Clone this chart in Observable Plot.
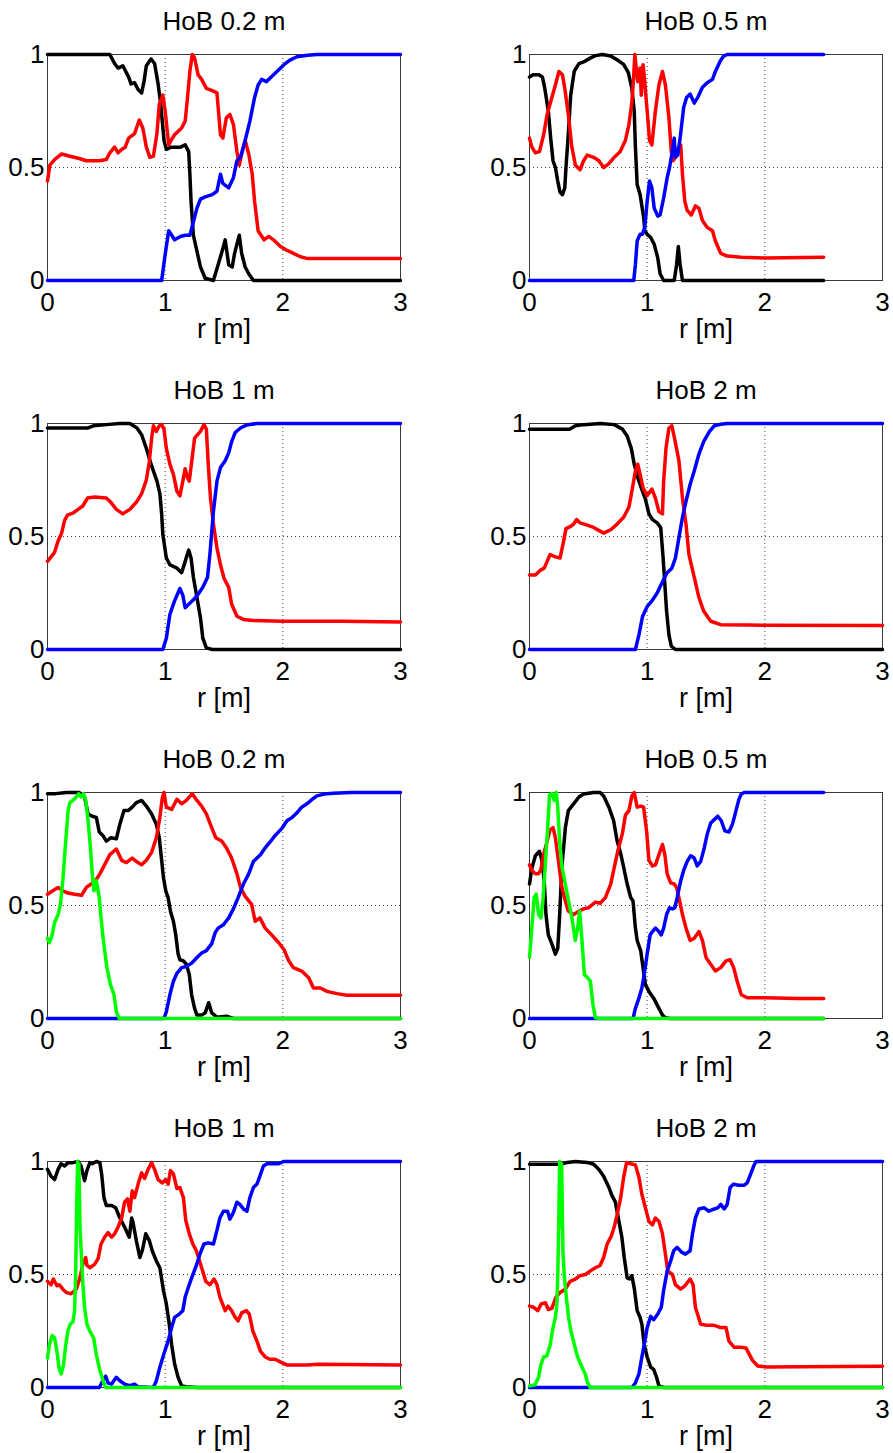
<!DOCTYPE html>
<html>
<head>
<meta charset="utf-8">
<script src="https://cdn.jsdelivr.net/npm/d3@7"></script>
<script src="https://cdn.jsdelivr.net/npm/@observablehq/plot@0.6"></script>
<style>
  html, body { margin: 0; padding: 0; background: #fff; overflow: hidden; }
  #wrap { position: relative; width: 893px; height: 1453px; background: #fff; overflow: hidden; }
  #wrap > div { position: absolute; }
  svg { display: block; overflow: visible; }
</style>
</head>
<body>
<div id="wrap"></div>
<script>
// ---------- text ----------
const titles = ["HoB 0.2 m", "HoB 0.5 m", "HoB 1 m", "HoB 2 m", "HoB 0.2 m", "HoB 0.5 m", "HoB 1 m", "HoB 2 m"];
const xLabel = "r [m]";
const xTicks = [0, 1, 2, 3];
const yTicks = [0, 0.5, 1];
const seriesColors = {black: "#000000", red: "#ff0000", blue: "#0000ff", green: "#00ff00"};

// ---------- panel 1 : HoB 0.2 m (top) ----------
const p1Black = [[0,1],[0.53,1],[0.57,0.96],[0.60,0.94],[0.64,0.95],[0.69,0.90],[0.71,0.87],[0.74,0.875],[0.77,0.845],[0.80,0.83],[0.82,0.88],[0.84,0.95],[0.88,0.98],[0.91,0.96],[0.94,0.87],[0.96,0.79],[0.98,0.68],[0.99,0.62],[1.01,0.58],[1.05,0.59],[1.13,0.59],[1.17,0.60],[1.20,0.57],[1.21,0.47],[1.22,0.35],[1.24,0.20],[1.27,0.13],[1.30,0.06],[1.34,0.01],[1.41,0],[1.45,0.07],[1.49,0.14],[1.51,0.18],[1.54,0.07],[1.57,0.06],[1.59,0.12],[1.63,0.20],[1.65,0.12],[1.68,0.06],[1.71,0.03],[1.75,0],[3,0]];
const p1Red = [[0,0.44],[0.02,0.51],[0.06,0.535],[0.12,0.56],[0.19,0.55],[0.27,0.54],[0.33,0.53],[0.44,0.53],[0.5,0.535],[0.53,0.565],[0.57,0.59],[0.60,0.565],[0.63,0.58],[0.66,0.59],[0.69,0.63],[0.74,0.65],[0.78,0.71],[0.81,0.675],[0.84,0.59],[0.87,0.545],[0.90,0.55],[0.93,0.65],[0.95,0.78],[0.98,0.82],[1.00,0.75],[1.03,0.60],[1.05,0.62],[1.08,0.645],[1.14,0.675],[1.17,0.705],[1.19,0.81],[1.21,0.925],[1.23,1.0],[1.25,0.985],[1.28,0.91],[1.31,0.89],[1.35,0.85],[1.40,0.84],[1.44,0.83],[1.47,0.645],[1.49,0.63],[1.52,0.72],[1.55,0.735],[1.58,0.69],[1.61,0.57],[1.63,0.51],[1.65,0.56],[1.68,0.62],[1.71,0.56],[1.74,0.47],[1.76,0.35],[1.79,0.22],[1.84,0.18],[1.88,0.195],[1.92,0.18],[1.98,0.15],[2.03,0.135],[2.09,0.12],[2.15,0.105],[2.21,0.097],[2.29,0.097],[3,0.097]];
const p1Blue = [[0,0],[0.97,0],[1.0,0.115],[1.03,0.22],[1.05,0.205],[1.08,0.18],[1.13,0.195],[1.17,0.2],[1.21,0.2],[1.24,0.26],[1.27,0.32],[1.30,0.36],[1.34,0.37],[1.40,0.38],[1.44,0.395],[1.47,0.47],[1.49,0.43],[1.54,0.41],[1.58,0.455],[1.61,0.53],[1.64,0.545],[1.68,0.62],[1.72,0.705],[1.76,0.81],[1.79,0.865],[1.82,0.89],[1.86,0.88],[1.91,0.905],[1.95,0.925],[2.01,0.955],[2.06,0.975],[2.12,0.99],[2.21,0.997],[2.29,1],[3,1]];

// ---------- panel 2 : HoB 0.5 m (top) ----------
const p2Black = [[0,0.90],[0.03,0.91],[0.08,0.91],[0.11,0.90],[0.13,0.85],[0.16,0.75],[0.18,0.63],[0.20,0.53],[0.22,0.50],[0.24,0.44],[0.26,0.39],[0.28,0.38],[0.30,0.41],[0.31,0.50],[0.33,0.65],[0.35,0.82],[0.38,0.925],[0.42,0.96],[0.47,0.97],[0.52,0.985],[0.56,0.995],[0.62,1.0],[0.69,0.993],[0.74,0.978],[0.80,0.956],[0.84,0.92],[0.87,0.85],[0.89,0.75],[0.90,0.59],[0.915,0.425],[0.94,0.38],[0.97,0.28],[0.98,0.22],[1.0,0.205],[1.03,0.19],[1.06,0.16],[1.09,0.10],[1.11,0.03],[1.14,0],[1.23,0],[1.25,0.07],[1.265,0.15],[1.28,0.07],[1.30,0],[2.5,0]];
const p2Red = [[0,0.63],[0.02,0.59],[0.05,0.565],[0.085,0.57],[0.12,0.645],[0.15,0.735],[0.19,0.81],[0.22,0.865],[0.25,0.925],[0.28,0.91],[0.30,0.85],[0.33,0.735],[0.36,0.59],[0.39,0.51],[0.43,0.49],[0.46,0.53],[0.49,0.555],[0.545,0.545],[0.59,0.53],[0.63,0.50],[0.67,0.515],[0.72,0.545],[0.77,0.57],[0.815,0.62],[0.845,0.69],[0.87,0.79],[0.885,0.90],[0.895,1.0],[0.91,0.925],[0.92,0.88],[0.94,0.94],[0.95,0.82],[0.965,0.955],[0.98,0.88],[0.99,0.81],[1.005,0.72],[1.02,0.62],[1.04,0.60],[1.07,0.75],[1.10,0.865],[1.13,0.925],[1.155,0.865],[1.185,0.72],[1.205,0.57],[1.22,0.53],[1.24,0.545],[1.26,0.585],[1.285,0.60],[1.30,0.47],[1.32,0.35],[1.34,0.31],[1.375,0.29],[1.41,0.33],[1.44,0.32],[1.47,0.265],[1.51,0.235],[1.555,0.22],[1.58,0.175],[1.625,0.12],[1.68,0.108],[1.80,0.103],[2.0,0.10],[2.5,0.103]];
const p2Blue = [[0,0],[0.886,0],[0.90,0.07],[0.915,0.175],[0.94,0.205],[0.96,0.205],[0.98,0.235],[1.0,0.35],[1.02,0.44],[1.04,0.41],[1.06,0.32],[1.09,0.285],[1.11,0.29],[1.14,0.365],[1.17,0.455],[1.19,0.50],[1.21,0.56],[1.23,0.63],[1.24,0.545],[1.26,0.555],[1.28,0.63],[1.31,0.765],[1.335,0.81],[1.365,0.825],[1.40,0.785],[1.43,0.81],[1.47,0.855],[1.51,0.875],[1.555,0.89],[1.58,0.925],[1.62,0.97],[1.65,0.993],[1.68,1],[2.5,1]];

// ---------- panel 3 : HoB 1 m (top) ----------
const p3Black = [[0,0.98],[0.34,0.98],[0.39,0.99],[0.5,0.995],[0.61,1.0],[0.70,1.0],[0.76,0.98],[0.80,0.95],[0.84,0.89],[0.88,0.82],[0.93,0.745],[0.955,0.69],[0.97,0.60],[0.98,0.51],[1.01,0.405],[1.04,0.375],[1.10,0.36],[1.14,0.34],[1.17,0.39],[1.20,0.44],[1.22,0.405],[1.24,0.32],[1.27,0.23],[1.30,0.14],[1.32,0.05],[1.35,0.007],[1.40,0],[3,0]];
const p3Red = [[0,0.39],[0.03,0.41],[0.06,0.43],[0.09,0.48],[0.12,0.515],[0.145,0.57],[0.17,0.595],[0.22,0.605],[0.26,0.62],[0.30,0.635],[0.34,0.67],[0.40,0.675],[0.5,0.67],[0.54,0.65],[0.585,0.62],[0.64,0.60],[0.70,0.62],[0.76,0.655],[0.80,0.69],[0.84,0.75],[0.865,0.83],[0.885,0.935],[0.90,0.99],[0.925,0.965],[0.95,0.99],[0.97,0.995],[0.99,0.975],[1.01,0.89],[1.04,0.82],[1.07,0.775],[1.10,0.70],[1.125,0.68],[1.15,0.745],[1.17,0.80],[1.19,0.76],[1.205,0.745],[1.225,0.83],[1.25,0.935],[1.30,0.965],[1.33,0.995],[1.35,0.975],[1.365,0.83],[1.385,0.67],[1.41,0.555],[1.44,0.45],[1.47,0.375],[1.50,0.315],[1.54,0.275],[1.565,0.20],[1.61,0.147],[1.665,0.133],[1.75,0.128],[2.0,0.125],[2.5,0.125],[3,0.122]];
const p3Blue = [[0,0],[0.98,0],[1.01,0.05],[1.04,0.155],[1.08,0.215],[1.125,0.27],[1.15,0.24],[1.17,0.185],[1.20,0.20],[1.24,0.22],[1.28,0.245],[1.32,0.275],[1.36,0.32],[1.38,0.42],[1.41,0.61],[1.44,0.745],[1.47,0.805],[1.51,0.835],[1.54,0.87],[1.565,0.92],[1.595,0.96],[1.64,0.98],[1.69,0.993],[1.78,1],[3,1]];

// ---------- panel 4 : HoB 2 m (top) ----------
const p4Black = [[0,0.975],[0.34,0.975],[0.39,0.99],[0.46,0.995],[0.60,1.0],[0.72,0.995],[0.79,0.975],[0.83,0.945],[0.865,0.89],[0.89,0.82],[0.92,0.76],[0.96,0.70],[0.985,0.665],[1.015,0.60],[1.045,0.575],[1.085,0.56],[1.115,0.54],[1.135,0.41],[1.15,0.29],[1.165,0.17],[1.185,0.065],[1.205,0.015],[1.24,0],[3,0]];
const p4Red = [[0,0.33],[0.05,0.33],[0.09,0.35],[0.125,0.36],[0.15,0.39],[0.175,0.42],[0.22,0.41],[0.26,0.405],[0.29,0.48],[0.31,0.535],[0.35,0.545],[0.375,0.555],[0.40,0.575],[0.43,0.56],[0.49,0.55],[0.545,0.54],[0.63,0.515],[0.69,0.53],[0.745,0.555],[0.80,0.585],[0.845,0.63],[0.87,0.70],[0.90,0.79],[0.92,0.82],[0.94,0.775],[0.965,0.715],[1.0,0.68],[1.04,0.71],[1.07,0.67],[1.10,0.61],[1.13,0.60],[1.14,0.745],[1.16,0.89],[1.185,0.98],[1.21,0.99],[1.24,0.915],[1.27,0.835],[1.30,0.67],[1.33,0.555],[1.355,0.42],[1.40,0.32],[1.44,0.23],[1.48,0.17],[1.54,0.125],[1.625,0.11],[1.85,0.108],[3,0.106]];
const p4Blue = [[0,0],[0.90,0],[0.93,0.065],[0.96,0.145],[1.0,0.19],[1.04,0.215],[1.085,0.25],[1.13,0.30],[1.17,0.34],[1.21,0.36],[1.24,0.405],[1.27,0.495],[1.30,0.585],[1.33,0.655],[1.365,0.73],[1.40,0.79],[1.44,0.865],[1.48,0.92],[1.53,0.965],[1.57,0.99],[1.625,0.997],[1.68,1],[3,1]];

// ---------- panel 5 : HoB 0.2 m (bottom) ----------
const p5Black = [[0,0.995],[0.07,0.995],[0.16,1.0],[0.27,1.0],[0.315,0.98],[0.345,0.905],[0.38,0.895],[0.415,0.89],[0.44,0.825],[0.47,0.81],[0.5,0.785],[0.54,0.80],[0.585,0.795],[0.615,0.86],[0.65,0.92],[0.685,0.92],[0.72,0.935],[0.755,0.955],[0.80,0.965],[0.84,0.94],[0.885,0.905],[0.925,0.86],[0.95,0.80],[0.97,0.70],[0.985,0.625],[1.005,0.565],[1.025,0.535],[1.045,0.475],[1.07,0.43],[1.09,0.37],[1.11,0.285],[1.125,0.26],[1.155,0.255],[1.18,0.24],[1.205,0.195],[1.225,0.105],[1.25,0.045],[1.27,0.015],[1.31,0.015],[1.34,0.025],[1.37,0.07],[1.395,0.025],[1.44,0.006],[1.52,0.01],[1.58,0],[3,0]];
const p5Red = [[0,0.55],[0.045,0.565],[0.09,0.58],[0.13,0.565],[0.175,0.555],[0.23,0.55],[0.29,0.545],[0.33,0.58],[0.37,0.595],[0.415,0.615],[0.445,0.64],[0.485,0.68],[0.53,0.725],[0.585,0.75],[0.63,0.70],[0.67,0.69],[0.72,0.71],[0.755,0.695],[0.80,0.68],[0.84,0.70],[0.885,0.735],[0.925,0.80],[0.955,0.89],[0.975,0.975],[0.99,1.0],[1.01,0.935],[1.055,0.925],[1.10,0.97],[1.14,0.95],[1.18,0.965],[1.23,0.995],[1.27,0.965],[1.31,0.94],[1.35,0.905],[1.395,0.845],[1.43,0.80],[1.48,0.785],[1.52,0.755],[1.565,0.71],[1.61,0.64],[1.64,0.58],[1.68,0.54],[1.735,0.505],[1.765,0.43],[1.805,0.445],[1.85,0.40],[1.905,0.37],[1.965,0.335],[2.01,0.305],[2.05,0.255],[2.09,0.225],[2.16,0.21],[2.22,0.18],[2.26,0.135],[2.32,0.135],[2.375,0.12],[2.46,0.11],[2.545,0.103],[3,0.103]];
const p5Blue = [[0,0],[0.99,0],[1.01,0.03],[1.04,0.105],[1.07,0.165],[1.10,0.20],[1.14,0.225],[1.18,0.23],[1.225,0.245],[1.27,0.27],[1.31,0.29],[1.35,0.30],[1.395,0.33],[1.425,0.38],[1.45,0.40],[1.495,0.415],[1.54,0.445],[1.58,0.485],[1.62,0.535],[1.665,0.595],[1.71,0.64],[1.75,0.695],[1.78,0.71],[1.81,0.725],[1.85,0.755],[1.89,0.78],[1.935,0.81],[1.99,0.84],[2.035,0.875],[2.08,0.89],[2.12,0.91],[2.16,0.935],[2.205,0.95],[2.25,0.97],[2.29,0.985],[2.35,0.993],[2.43,0.997],[2.575,1],[3,1]];
const p5Green = [[0,0.355],[0.017,0.335],[0.04,0.37],[0.06,0.425],[0.09,0.46],[0.11,0.505],[0.13,0.61],[0.155,0.785],[0.175,0.92],[0.19,0.955],[0.215,0.965],[0.245,0.98],[0.265,0.995],[0.285,0.98],[0.305,0.995],[0.325,0.965],[0.345,0.875],[0.365,0.755],[0.38,0.64],[0.395,0.565],[0.415,0.61],[0.44,0.535],[0.455,0.445],[0.475,0.345],[0.505,0.225],[0.535,0.15],[0.565,0.105],[0.585,0.03],[0.61,0],[3,0]];

// ---------- panel 6 : HoB 0.5 m (bottom) ----------
const p6Black = [[0,0.595],[0.02,0.665],[0.05,0.72],[0.085,0.74],[0.105,0.70],[0.125,0.61],[0.14,0.46],[0.16,0.37],[0.19,0.33],[0.22,0.285],[0.24,0.31],[0.255,0.445],[0.275,0.67],[0.305,0.845],[0.33,0.92],[0.375,0.95],[0.42,0.98],[0.46,0.993],[0.545,1],[0.60,1],[0.63,0.985],[0.675,0.935],[0.715,0.875],[0.745,0.785],[0.775,0.73],[0.80,0.67],[0.83,0.595],[0.86,0.535],[0.88,0.52],[0.90,0.40],[0.915,0.345],[0.945,0.30],[0.965,0.225],[0.985,0.15],[1.015,0.12],[1.055,0.09],[1.09,0.055],[1.13,0.015],[1.155,0.003],[1.20,0],[2.5,0]];
const p6Red = [[0,0.68],[0.02,0.655],[0.05,0.64],[0.075,0.64],[0.095,0.655],[0.12,0.725],[0.15,0.785],[0.175,0.835],[0.20,0.845],[0.22,0.80],[0.245,0.70],[0.275,0.58],[0.305,0.52],[0.33,0.475],[0.375,0.46],[0.42,0.475],[0.46,0.485],[0.50,0.49],[0.56,0.515],[0.60,0.51],[0.645,0.535],[0.69,0.595],[0.715,0.655],[0.75,0.74],[0.79,0.82],[0.815,0.90],[0.845,0.92],[0.87,0.985],[0.89,1.0],[0.915,0.935],[0.945,0.94],[0.97,0.935],[0.995,0.83],[1.015,0.70],[1.045,0.675],[1.07,0.68],[1.10,0.725],[1.13,0.77],[1.15,0.725],[1.17,0.64],[1.20,0.60],[1.23,0.595],[1.25,0.58],[1.27,0.535],[1.30,0.46],[1.33,0.40],[1.365,0.345],[1.40,0.355],[1.44,0.385],[1.47,0.345],[1.50,0.27],[1.54,0.24],[1.58,0.21],[1.625,0.225],[1.67,0.255],[1.705,0.26],[1.735,0.225],[1.765,0.165],[1.80,0.105],[1.85,0.092],[2.0,0.092],[2.28,0.089],[2.5,0.089]];
const p6Blue = [[0,0],[0.88,0],[0.90,0.045],[0.93,0.09],[0.955,0.135],[0.975,0.195],[1.0,0.285],[1.025,0.37],[1.045,0.385],[1.07,0.40],[1.10,0.385],[1.12,0.37],[1.14,0.40],[1.165,0.46],[1.19,0.49],[1.215,0.485],[1.235,0.49],[1.255,0.535],[1.285,0.61],[1.31,0.655],[1.34,0.695],[1.37,0.72],[1.40,0.71],[1.425,0.675],[1.455,0.695],[1.485,0.755],[1.51,0.815],[1.54,0.865],[1.57,0.88],[1.60,0.895],[1.63,0.875],[1.66,0.83],[1.695,0.825],[1.725,0.86],[1.755,0.92],[1.78,0.97],[1.80,0.993],[1.825,1],[2.5,1]];
const p6Green = [[0,0.27],[0.02,0.40],[0.04,0.535],[0.057,0.55],[0.077,0.46],[0.097,0.445],[0.114,0.52],[0.134,0.68],[0.153,0.83],[0.17,0.99],[0.19,0.995],[0.21,0.965],[0.227,1.0],[0.24,0.935],[0.256,0.785],[0.276,0.67],[0.304,0.595],[0.332,0.52],[0.361,0.445],[0.389,0.345],[0.409,0.40],[0.426,0.475],[0.446,0.345],[0.466,0.195],[0.494,0.18],[0.517,0.165],[0.54,0.06],[0.56,0.003],[0.60,0],[2.5,0]];

// ---------- panel 7 : HoB 1 m (bottom) ----------
const p7Black = [[0,0.965],[0.03,0.935],[0.06,0.92],[0.09,0.965],[0.115,0.99],[0.145,0.98],[0.175,0.995],[0.215,0.995],[0.26,1.0],[0.285,0.98],[0.315,0.915],[0.335,0.96],[0.36,0.995],[0.38,0.99],[0.415,1.0],[0.445,0.995],[0.46,0.945],[0.48,0.84],[0.5,0.805],[0.545,0.805],[0.58,0.795],[0.615,0.75],[0.655,0.71],[0.695,0.665],[0.715,0.75],[0.725,0.735],[0.755,0.65],[0.785,0.575],[0.805,0.605],[0.835,0.68],[0.865,0.65],[0.89,0.605],[0.925,0.56],[0.955,0.53],[0.985,0.43],[1.01,0.37],[1.035,0.28],[1.055,0.19],[1.08,0.105],[1.11,0.045],[1.14,0.007],[1.18,0.003],[1.27,0],[3,0]];
const p7Red = [[0,0.47],[0.03,0.455],[0.05,0.48],[0.08,0.45],[0.10,0.455],[0.13,0.435],[0.16,0.42],[0.20,0.415],[0.245,0.435],[0.275,0.485],[0.30,0.545],[0.325,0.575],[0.335,0.54],[0.36,0.53],[0.40,0.545],[0.43,0.57],[0.455,0.635],[0.485,0.665],[0.515,0.685],[0.545,0.665],[0.57,0.68],[0.60,0.71],[0.63,0.75],[0.655,0.82],[0.68,0.835],[0.70,0.78],[0.72,0.87],[0.74,0.84],[0.77,0.90],[0.80,0.95],[0.825,0.925],[0.855,0.965],[0.885,0.995],[0.91,0.965],[0.94,0.92],[0.975,0.905],[1.005,0.92],[1.025,0.90],[1.045,0.96],[1.07,0.945],[1.10,0.88],[1.125,0.885],[1.155,0.84],[1.175,0.74],[1.205,0.68],[1.235,0.635],[1.265,0.605],[1.31,0.53],[1.345,0.47],[1.38,0.455],[1.415,0.48],[1.44,0.455],[1.465,0.40],[1.51,0.34],[1.535,0.36],[1.565,0.34],[1.595,0.31],[1.62,0.295],[1.65,0.33],[1.69,0.34],[1.715,0.325],[1.745,0.25],[1.78,0.205],[1.81,0.16],[1.85,0.135],[1.89,0.125],[1.935,0.125],[1.99,0.11],[2.035,0.10],[2.2,0.10],[2.3,0.103],[3,0.10]];
const p7Blue = [[0,0],[0.44,0],[0.47,0.03],[0.495,0.05],[0.515,0.02],[0.545,0.015],[0.585,0.045],[0.615,0.03],[0.655,0.015],[0.70,0.008],[0.74,0.015],[0.77,0.003],[0.90,0],[0.925,0.03],[0.955,0.09],[0.99,0.15],[1.025,0.205],[1.055,0.265],[1.08,0.31],[1.12,0.325],[1.15,0.34],[1.17,0.40],[1.195,0.44],[1.225,0.485],[1.265,0.54],[1.295,0.59],[1.33,0.635],[1.365,0.64],[1.41,0.635],[1.44,0.695],[1.465,0.75],[1.495,0.78],[1.53,0.78],[1.55,0.745],[1.58,0.775],[1.61,0.82],[1.635,0.81],[1.665,0.79],[1.695,0.78],[1.72,0.84],[1.75,0.885],[1.78,0.90],[1.805,0.935],[1.835,0.98],[1.865,0.99],[1.92,0.99],[1.965,0.99],[2.005,1],[3,1]];
const p7Green = [[0,0.13],[0.017,0.19],[0.04,0.23],[0.06,0.22],[0.08,0.16],[0.097,0.09],[0.116,0.06],[0.136,0.10],[0.153,0.18],[0.173,0.25],[0.193,0.28],[0.216,0.29],[0.23,0.34],[0.239,0.49],[0.247,0.78],[0.256,1.0],[0.261,0.80],[0.267,0.99],[0.276,0.71],[0.287,0.60],[0.301,0.455],[0.315,0.355],[0.335,0.28],[0.364,0.245],[0.392,0.22],[0.415,0.145],[0.443,0.08],[0.472,0.03],[0.494,0],[3,0]];

// ---------- panel 8 : HoB 2 m (bottom) ----------
const p8Black = [[0,0.988],[0.15,0.988],[0.275,0.988],[0.32,0.996],[0.39,1.0],[0.49,0.996],[0.545,0.988],[0.59,0.965],[0.63,0.935],[0.675,0.885],[0.70,0.85],[0.73,0.82],[0.76,0.735],[0.785,0.665],[0.805,0.575],[0.83,0.485],[0.85,0.48],[0.87,0.495],[0.89,0.44],[0.915,0.34],[0.94,0.31],[0.955,0.28],[0.975,0.19],[1.0,0.135],[1.03,0.09],[1.055,0.08],[1.08,0.045],[1.10,0.007],[1.14,0],[3,0]];
const p8Red = [[0,0.36],[0.035,0.355],[0.07,0.34],[0.10,0.37],[0.135,0.375],[0.16,0.345],[0.19,0.35],[0.225,0.40],[0.26,0.42],[0.305,0.435],[0.345,0.47],[0.39,0.48],[0.43,0.495],[0.475,0.50],[0.515,0.515],[0.56,0.53],[0.60,0.54],[0.63,0.575],[0.66,0.635],[0.695,0.67],[0.72,0.71],[0.745,0.765],[0.775,0.84],[0.80,0.93],[0.825,0.995],[0.86,0.99],[0.90,0.985],[0.93,0.93],[0.955,0.855],[0.985,0.795],[1.015,0.735],[1.045,0.72],[1.07,0.75],[1.10,0.735],[1.13,0.68],[1.155,0.59],[1.175,0.515],[1.215,0.50],[1.24,0.455],[1.285,0.435],[1.32,0.45],[1.365,0.48],[1.39,0.455],[1.41,0.355],[1.455,0.28],[1.51,0.275],[1.57,0.275],[1.625,0.265],[1.67,0.265],[1.695,0.205],[1.74,0.178],[1.795,0.178],[1.84,0.175],[1.865,0.15],[1.895,0.12],[1.94,0.095],[2.02,0.091],[2.3,0.092],[3,0.094]];
const p8Blue = [[0,0],[0.87,0],[0.90,0.02],[0.93,0.06],[0.955,0.135],[0.975,0.19],[1.0,0.265],[1.03,0.315],[1.055,0.30],[1.09,0.325],[1.12,0.355],[1.14,0.43],[1.17,0.515],[1.20,0.56],[1.225,0.605],[1.255,0.62],[1.29,0.60],[1.325,0.59],[1.365,0.605],[1.385,0.68],[1.41,0.75],[1.44,0.79],[1.485,0.795],[1.525,0.78],[1.57,0.79],[1.60,0.795],[1.625,0.81],[1.655,0.79],[1.68,0.81],[1.705,0.885],[1.735,0.90],[1.775,0.895],[1.825,0.895],[1.85,0.905],[1.88,0.945],[1.905,0.98],[1.925,1],[3,1]];
const p8Green = [[0,0.007],[0.048,0.012],[0.077,0.045],[0.097,0.10],[0.12,0.135],[0.148,0.14],[0.176,0.19],[0.20,0.265],[0.22,0.31],[0.233,0.37],[0.241,0.515],[0.25,0.78],[0.256,1.0],[0.264,0.71],[0.273,0.99],[0.284,0.605],[0.295,0.50],[0.313,0.40],[0.332,0.31],[0.352,0.25],[0.381,0.19],[0.409,0.135],[0.446,0.09],[0.474,0.06],[0.494,0.02],[0.517,0],[3,0]];

// ---------- assemble (library options built from the arrays above) ----------
const panelSeries = [
  {black: p1Black, red: p1Red, blue: p1Blue},
  {black: p2Black, red: p2Red, blue: p2Blue},
  {black: p3Black, red: p3Red, blue: p3Blue},
  {black: p4Black, red: p4Red, blue: p4Blue},
  {black: p5Black, red: p5Red, blue: p5Blue, green: p5Green},
  {black: p6Black, red: p6Red, blue: p6Blue, green: p6Green},
  {black: p7Black, red: p7Red, blue: p7Blue, green: p7Green},
  {black: p8Black, red: p8Red, blue: p8Blue, green: p8Green}
];

const FONT = "'Liberation Sans', Arial, Helvetica, sans-serif";
const wrap = document.getElementById("wrap");

panelSeries.forEach((series, i) => {
  const col = i % 2, row = Math.floor(i / 2);
  const left = col === 0 ? 0 : 482;
  const top = row * 369;
  const width = col === 0 ? 420 : 411;
  const height = 344;
  const marks = [
    Plot.ruleX([1, 2], {stroke: "#444", strokeWidth: 1, strokeDasharray: "1,3"}),
    Plot.ruleY([0.5], {stroke: "#444", strokeWidth: 1, strokeDasharray: "1,3"}),
    Plot.frame({stroke: "#3a3a3a", strokeWidth: 1}),
    Plot.axisX(xTicks, {tickSize: 0, tickPadding: 12, fontSize: 26, label: null, tickFormat: d => String(d)}),
    Plot.axisY(yTicks, {tickSize: 0, tickPadding: 3, fontSize: 26, label: null, tickFormat: d => String(d)}),
    Plot.text([titles[i]], {frameAnchor: "top", lineAnchor: "top", dy: -43, fontSize: 26, fill: "#000"}),
    Plot.text([xLabel], {frameAnchor: "bottom", lineAnchor: "top", dy: 38, fontSize: 27, fill: "#000"})
  ];
  for (const key of ["black", "red", "blue", "green"]) {
    if (!series[key]) continue;
    marks.push(Plot.line(series[key], {x: d => d[0], y: d => d[1], stroke: seriesColors[key], strokeWidth: 3.5, strokeLinejoin: "round"}));
  }
  const chart = Plot.plot({
    width, height,
    marginLeft: 47, marginRight: width - 47 - 353, marginTop: 54, marginBottom: height - 54 - 226,
    x: {domain: [0, 3], ticks: xTicks},
    y: {domain: [0, 1], ticks: yTicks},
    style: {fontFamily: FONT, color: "#000", background: "transparent", overflow: "visible"},
    marks
  });
  const holder = document.createElement("div");
  holder.style.left = left + "px";
  holder.style.top = top + "px";
  holder.style.width = width + "px";
  holder.style.height = height + "px";
  holder.appendChild(chart);
  wrap.appendChild(holder);
});
</script>
</body>
</html>
